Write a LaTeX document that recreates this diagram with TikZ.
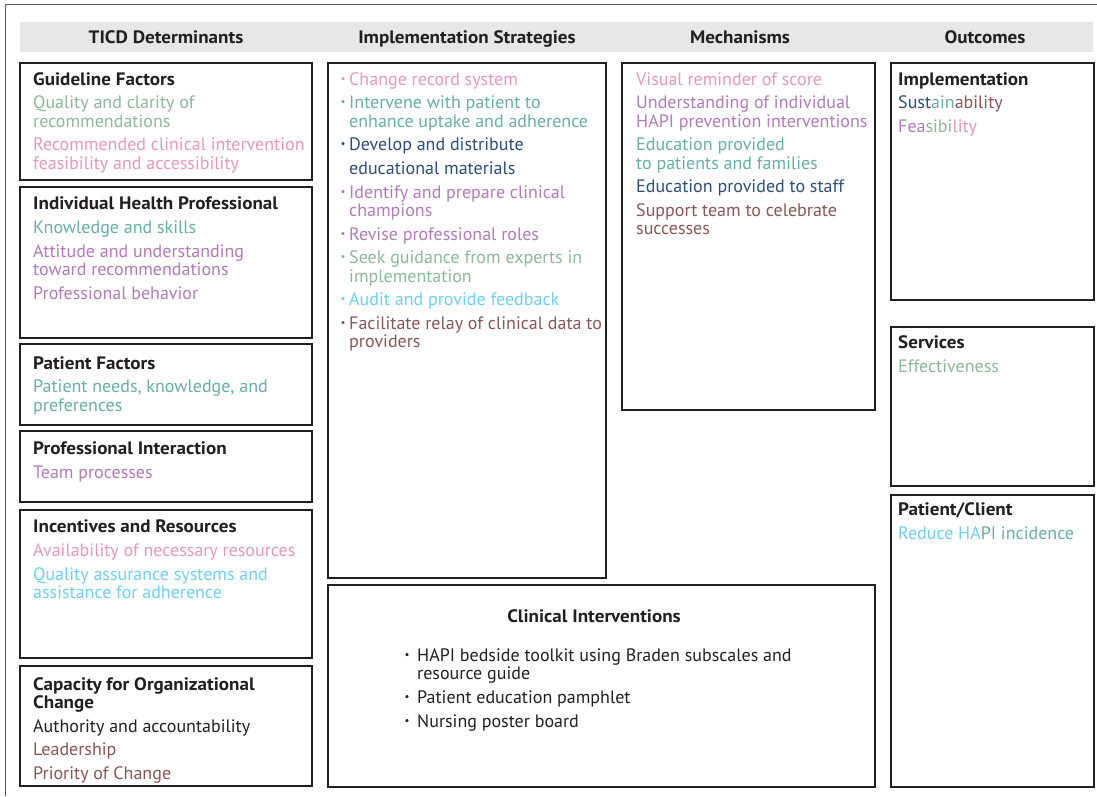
\documentclass[tikz,border=0pt]{standalone}
\usepackage{fontspec}
\setmainfont{PT Sans}[BoldFeatures={FakeStretch=1.06}]
\definecolor{cgreen}{HTML}{8CB89B}
\definecolor{cpink}{HTML}{E797BF}
\definecolor{cteal}{HTML}{68AEAA}
\definecolor{cpurple}{HTML}{B27BB7}
\definecolor{cdblue}{HTML}{2E4D7B}
\definecolor{clblue}{HTML}{6ED0F4}
\definecolor{cbrown}{HTML}{8A5656}
\definecolor{cblack}{HTML}{231F20}
\definecolor{cband}{HTML}{E6E7E8}
\definecolor{cframe}{HTML}{5A5A5A}
\begin{document}
\begin{tikzpicture}[x=1pt,y=-1pt,
  box/.style={draw=cblack, line width=1.6pt},
  t/.style={anchor=mid west, inner sep=0pt, yshift=-4pt, font=\fontsize{18}{20}\selectfont},
  ttl/.style={t, font=\fontsize{18}{20}\selectfont\bfseries, text=cblack},
  hdr/.style={anchor=mid, inner sep=0pt, yshift=-4pt, font=\fontsize{18}{20}\selectfont\bfseries, text=cblack},
  bul/.style={anchor=center, inner sep=0pt, yshift=-1pt, font=\fontsize{11}{11}\selectfont}]
\useasboundingbox (0,0) rectangle (1097,796);
% outer frame
\draw[cframe, line width=1pt] (5,796) -- (5,4) -- (1097,4);
% header band
\fill[cband] (20,22) rectangle (1093,52);
\node[hdr] (h1) at (166,37) {TICD Determinants};
\node[hdr] (h2) at (467,37) {Implementation Strategies};
\node[hdr] (h3) at (740,37) {Mechanisms};
\node[hdr] (h4) at (985,37) {Outcomes};
% left boxes
\draw[box] (20,63) rectangle (312,180);
\draw[box] (20,187) rectangle (312,338);
\draw[box] (20,344) rectangle (312,425);
\draw[box] (20,431) rectangle (312,502);
\draw[box] (20,510) rectangle (312,658);
\draw[box] (20,666) rectangle (312,786);
% middle boxes
\draw[box] (328,63) rectangle (606,578);
\draw[box] (622,63) rectangle (875,410);
\draw[box] (328,585) rectangle (875,787);
% outcome boxes
\draw[box] (891,63) rectangle (1094,300);
\draw[box] (891,327) rectangle (1094,486);
\draw[box] (891,495) rectangle (1094,787);

% Guideline Factors
\node[ttl] (gf) at (33,79) {Guideline Factors};
\node[t, text=cgreen] (gf1) at (33,102) {Quality and clarity of};
\node[t, text=cgreen] (gf2) at (33,121) {recommendations};
\node[t, text=cpink] (gf3) at (33,144) {Recommended clinical intervention};
\node[t, text=cpink] (gf4) at (33,163) {feasibility and accessibility};
% Individual Health Professional
\node[ttl] (ih) at (33,203) {Individual Health Professional};
\node[t, text=cteal] (ih1) at (33,227) {Knowledge and skills};
\node[t, text=cpurple] (ih2) at (33,251) {Attitude and understanding};
\node[t, text=cpurple] (ih3) at (33,269) {toward recommendations};
\node[t, text=cpurple] (ih4) at (33,293) {Professional behavior};
% Patient Factors
\node[ttl] (pf) at (33,363) {Patient Factors};
\node[t, text=cteal] (pf1) at (33,386) {Patient needs, knowledge, and};
\node[t, text=cteal] (pf2) at (33,405) {preferences};
% Professional Interaction
\node[ttl] (pi) at (33,448) {Professional Interaction};
\node[t, text=cpurple] (pi1) at (33,472) {Team processes};
% Incentives and Resources
\node[ttl] (ir) at (33,526) {Incentives and Resources};
\node[t, text=cpink] (ir1) at (33,550) {Availability of necessary resources};
\node[t, text=clblue] (ir2) at (33,574) {Quality assurance systems and};
\node[t, text=clblue] (ir3) at (33,592) {assistance for adherence};
% Capacity
\node[ttl] (co) at (33,684) {Capacity for Organizational};
\node[ttl] (co0) at (33,702) {Change};
\node[t, text=cblack] (co1) at (33,726) {Authority and accountability};
\node[t, text=cbrown] (co2) at (33,749) {Leadership};
\node[t, text=cbrown] (co3) at (33,773) {Priority of Change};

% Implementation Strategies
\node[bul, text=cpink] (b1) at (343,79) {•};
\node[t, text=cpink] (s1) at (349,79) {Change record system};
\node[bul, text=cteal] (b2) at (343,102) {•};
\node[t, text=cteal] (s2) at (349,102) {Intervene with patient to};
\node[t, text=cteal] (s2b) at (349,121) {enhance uptake and adherence};
\node[bul, text=cdblue] (b3) at (343,144) {•};
\node[t, text=cdblue] (s3) at (349,144) {Develop and distribute};
\node[t, text=cdblue] (s3b) at (349,168) {educational materials};
\node[bul, text=cpurple] (b4) at (343,192) {•};
\node[t, text=cpurple] (s4) at (349,192) {Identify and prepare clinical};
\node[t, text=cpurple] (s4b) at (349,210) {champions};
\node[bul, text=cpurple] (b5) at (343,234) {•};
\node[t, text=cpurple] (s5) at (349,234) {Revise professional roles};
\node[bul, text=cgreen] (b6) at (343,257) {•};
\node[t, text=cgreen] (s6) at (349,257) {Seek guidance from experts in};
\node[t, text=cgreen] (s6b) at (349,276) {implementation};
\node[bul, text=clblue] (b7) at (343,299) {•};
\node[t, text=clblue] (s7) at (349,299) {Audit and provide feedback};
\node[bul, text=cbrown] (b8) at (343,323) {•};
\node[t, text=cbrown] (s8) at (349,323) {Facilitate relay of clinical data to};
\node[t, text=cbrown] (s8b) at (349,341) {providers};

% Mechanisms
\node[t, text=cpink] (m1) at (636,79) {Visual reminder of score};
\node[t, text=cpurple] (m2) at (636,102) {Understanding of individual};
\node[t, text=cpurple] (m2b) at (636,121) {HAPI prevention interventions};
\node[t, text=cteal] (m3) at (636,144) {Education provided};
\node[t, text=cteal] (m3b) at (636,163) {to patients and families};
\node[t, text=cdblue] (m4) at (636,186) {Education provided to staff};
\node[t, text=cbrown] (m5) at (636,210) {Support team to celebrate};
\node[t, text=cbrown] (m5b) at (636,228) {successes};

% Outcomes
\node[ttl] (o1) at (898,79) {Implementation};
\node[t] (o1a) at (898,102) {\color{cdblue}Sust\color{cteal}ain\color{cbrown}ability};
\node[t] (o1b) at (898,126) {\color{cpurple}Fea\color{cgreen}sibi\color{cpink}lity};
\node[ttl] (o2) at (898,342) {Services};
\node[t, text=cgreen] (o2a) at (898,366) {Effectiveness};
\node[ttl] (o3) at (898,509) {Patient/Client};
\node[t] (o3a) at (898,533) {\color{clblue}Reduce HA\color{cteal}PI incidence};

% Clinical Interventions
\node[hdr] (ci) at (594,616) {Clinical Interventions};
\node[bul, text=cblack] (cb1) at (407,655) {•};
\node[t, text=cblack] (c1) at (417,655) {HAPI bedside toolkit using Braden subscales and};
\node[t, text=cblack] (c1b) at (417,673) {resource guide};
\node[bul, text=cblack] (cb2) at (407,697) {•};
\node[t, text=cblack] (c2) at (417,697) {Patient education pamphlet};
\node[bul, text=cblack] (cb3) at (407,721) {•};
\node[t, text=cblack] (c3) at (417,721) {Nursing poster board};
\end{tikzpicture}
\end{document}
